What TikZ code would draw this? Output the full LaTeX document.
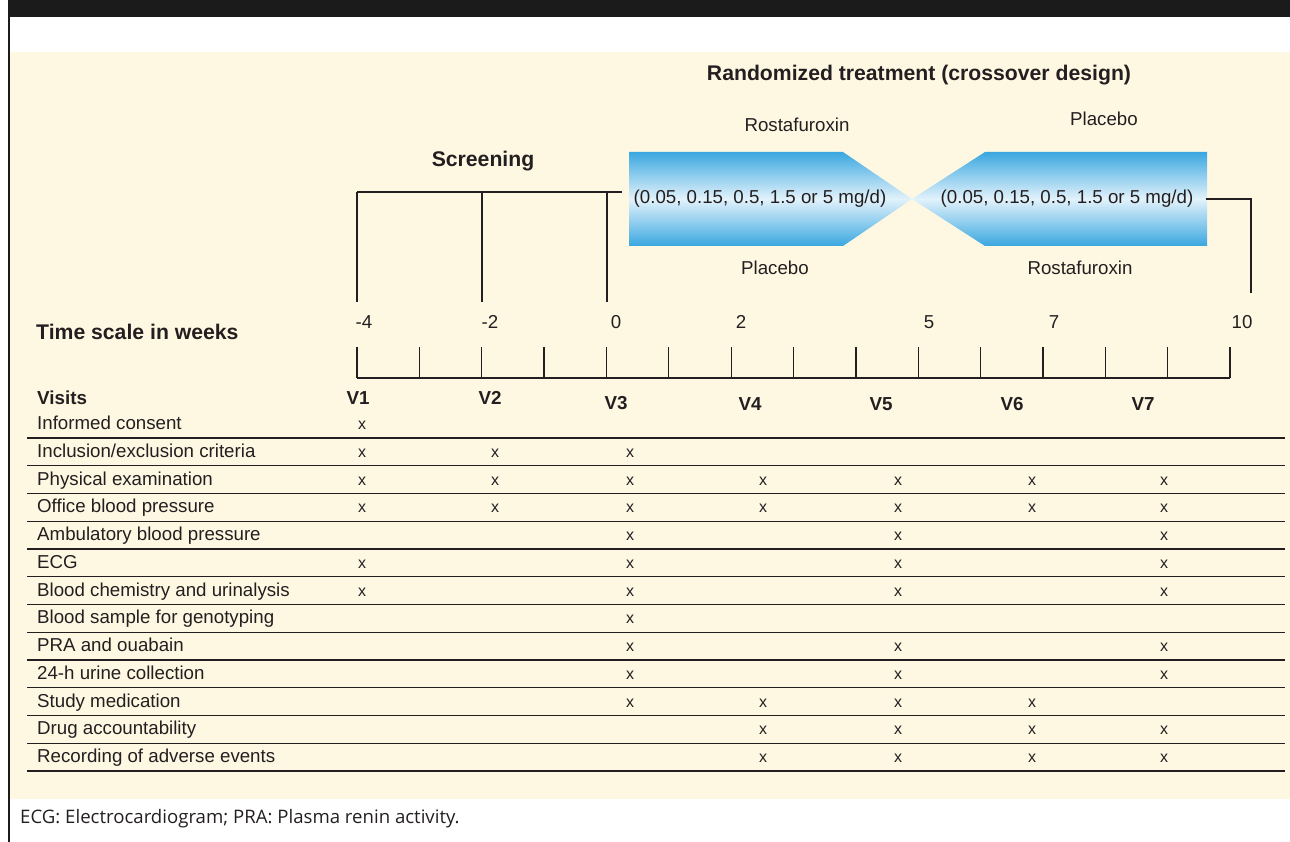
\documentclass[tikz,border=0pt]{standalone}
\usepackage{fontspec}
\setmainfont{Liberation Sans}
\newfontfamily\notefont{Open Sans}
\usetikzlibrary{positioning,calc}

\definecolor{cream}{HTML}{FEF8E3}
\definecolor{doseblue}{HTML}{3AA7E0}
\definecolor{doselight}{HTML}{E2F2FB}
\definecolor{barblack}{HTML}{1B1B1B}
\definecolor{ink}{HTML}{231F20}

\begin{document}
\begin{tikzpicture}[x=1pt, y=-1pt,
    head/.style={font=\fontsize{21.2}{23}\selectfont\bfseries, text=ink, inner sep=0pt},
    visit/.style={font=\fontsize{18.8}{20}\selectfont\bfseries, text=ink, inner sep=0pt},
    lbl/.style={font=\fontsize{18.7}{20}\selectfont, text=ink, inner sep=0pt},
    row/.style={lbl, anchor=base west},
    xmark/.style={font=\fontsize{16}{18}\selectfont, text=ink, inner sep=0pt, anchor=base},
    rule/.style={draw=ink, line width=1.3pt},
    dose/.style={top color=doseblue, bottom color=doseblue, middle color=doselight}
]
    \useasboundingbox (0,0) rectangle (1290,842);

    % frame and background
    \fill[cream] (10,52) rectangle (1290,799);
    \fill[barblack] (8,0) rectangle (1290,17);
    \draw[barblack, line width=2pt] (9,0) -- (9,842);

    % headings
    \node [head] (rand) at (919,75) {Randomized treatment (crossover design)};
    \node [head] (scr) at (483,161) {Screening};
    \node [lbl] (rostaA) at (797,125) {Rostafuroxin};
    \node [lbl] (placA) at (1104,119) {Placebo};

    % crossover arms
    \shade [dose] (629,152) -- (843,152) -- (912,199) -- (843,246) -- (629,246) -- cycle;
    \shade [dose] (985,152) -- (1207,152) -- (1207,246) -- (985,246) -- (912,199) -- cycle;
    \node [lbl] (doseA) at (760,199) {(0.05, 0.15, 0.5, 1.5 or 5 mg/d)};
    \node [lbl] (doseB) at (1067,199) {(0.05, 0.15, 0.5, 1.5 or 5 mg/d)};
    \node [lbl] (placB) at (775,268) {Placebo};
    \node [lbl] (rostaB) at (1080,268) {Rostafuroxin};

    % screening bracket
    \coordinate (s1) at (357,192);
    \coordinate (s2) at (482,192);
    \coordinate (s3) at (607,192);
    \coordinate (sEnd) at (622,192);
    \draw [rule] (s1) -- (sEnd);
    \foreach \s in {s1,s2,s3}
        \draw [rule] (\s) -- ++(0,110);

    % end bracket
    \coordinate (eEnd) at (1251,293);
    \draw [rule] ([xshift=12pt]doseB.east) -| (eEnd);

    % time scale
    \node [head, anchor=west] (tscale) at (36,332) {Time scale in weeks};
    \foreach \x/\w [count=\k] in {364/-4, 490/-2, 616/0, 741/2, 929/5, 1054/7, 1242/10}
        \node [lbl] (wk\k) at (\x,322) {\w};
    \draw [rule] (357,378) -- (1230,378);
    \foreach \i in {0,...,14}
        \draw [rule] (357+\i*62.36,347) -- ++(0,31);

    % visits
    \node [visit, anchor=west] (visits) at (37,398) {Visits};
    \foreach \x/\y [count=\k] in {358/398, 490/398, 616/403, 750/404, 881/404, 1012/404, 1143/404}
        \node [visit] (v\k) at (\x,\y) {V\k};
    \foreach \x [count=\k] in {362,495,630,763,898,1032,1164}
        \coordinate (c\k) at (\x,0);

    % schedule rows
    \foreach \i/\txt/\cols in {
        0/{Informed consent}/{1},
        1/{Inclusion/exclusion criteria}/{1,2,3},
        2/{Physical examination}/{1,2,3,4,5,6,7},
        3/{Office blood pressure}/{1,2,3,4,5,6,7},
        4/{Ambulatory blood pressure}/{3,5,7},
        5/{ECG}/{1,3,5,7},
        6/{Blood chemistry and urinalysis}/{1,3,5,7},
        7/{Blood sample for genotyping}/{3},
        8/{PRA and ouabain}/{3,5,7},
        9/{24-h urine collection}/{3,5,7},
        10/{Study medication}/{3,4,5,6},
        11/{Drug accountability}/{4,5,6,7},
        12/{Recording of adverse events}/{4,5,6,7}} {
        \pgfmathsetmacro{\yl}{438+27.75*\i}
        \pgfmathsetmacro{\yb}{\yl-8.5}
        \node [row] (r\i) at (37,\yb) {\txt};
        \foreach \c in \cols
            \node [xmark] at ($(c\c)+(0,\yb)$) {x};
        \draw [draw=ink, line width=1.2pt] (27,\yl) -- (1285,\yl);
    }

    % footnote
    \node [anchor=base west, inner sep=0pt, font=\notefont\fontsize{18.6}{20}\selectfont, text=ink] (note) at (20,823)
        {ECG: Electrocardiogram; PRA: Plasma renin activity.};
\end{tikzpicture}
\end{document}
